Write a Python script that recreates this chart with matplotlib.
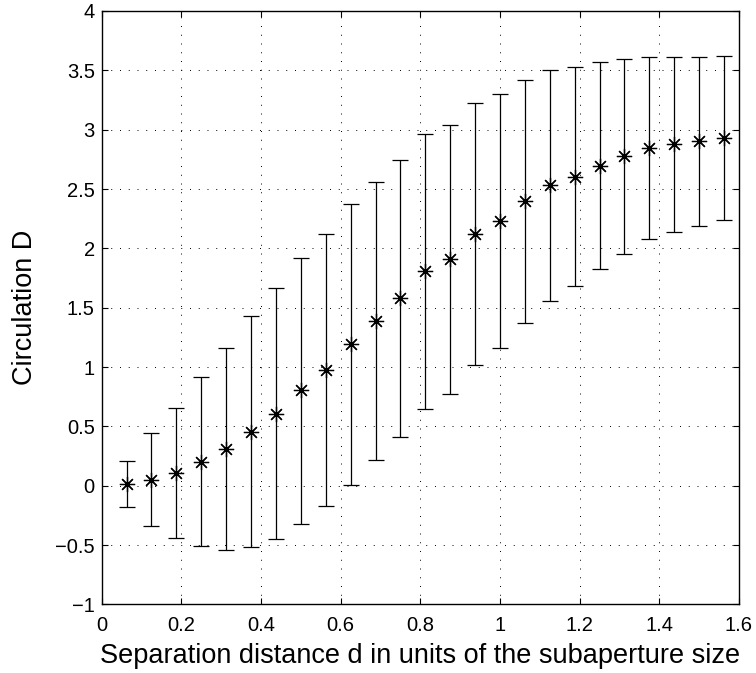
import matplotlib
matplotlib.use("Agg")
import matplotlib.pyplot as plt
import numpy as np

plt.rcParams['font.family'] = ['Liberation Sans', 'DejaVu Sans']

# Data
separation = [0.0625, 0.125, 0.1875, 0.25, 0.3125, 0.375, 0.4375, 0.5, 0.5625,
              0.625, 0.6875, 0.75, 0.8125, 0.875, 0.9375, 1.0, 1.0625, 1.125,
              1.1875, 1.25, 1.3125, 1.375, 1.4375, 1.5, 1.5625]
circulation = [0.013, 0.051, 0.110, 0.200, 0.310, 0.453, 0.607, 0.804, 0.978,
               1.195, 1.388, 1.580, 1.807, 1.911, 2.121, 2.233, 2.397, 2.532,
               2.604, 2.697, 2.776, 2.843, 2.877, 2.902, 2.933]
upper = [0.209, 0.445, 0.655, 0.917, 1.164, 1.428, 1.664, 1.922, 2.121,
         2.377, 2.559, 2.747, 2.961, 3.037, 3.222, 3.301, 3.419, 3.506,
         3.526, 3.570, 3.596, 3.612, 3.612, 3.612, 3.618]
lower = [-0.181, -0.339, -0.437, -0.510, -0.538, -0.518, -0.446, -0.322, -0.170,
         0.009, 0.217, 0.414, 0.650, 0.776, 1.015, 1.164, 1.374, 1.554,
         1.681, 1.826, 1.953, 2.077, 2.136, 2.191, 2.242]

x_ticks = [0, 0.2, 0.4, 0.6, 0.8, 1, 1.2, 1.4, 1.6]
x_ticklabels = ['0', '0.2', '0.4', '0.6', '0.8', '1', '1.2', '1.4', '1.6']
y_ticks = [-1, -0.5, 0, 0.5, 1, 1.5, 2, 2.5, 3, 3.5, 4]
y_ticklabels = ['\u22121', '\u22120.5', '0', '0.5', '1', '1.5', '2', '2.5', '3', '3.5', '4']

y = np.array(circulation)
yerr = [y - np.array(lower), np.array(upper) - y]

fig = plt.figure(figsize=(7.56, 6.73), dpi=100)
ax = fig.add_axes([0.1345, 0.1019, 0.9775 - 0.1345, 0.9837 - 0.1019])

ax.errorbar(separation, y, yerr=yerr, fmt='none', ecolor='black',
            elinewidth=0.9, capsize=6, capthick=0.9, zorder=3)
ax.plot(separation, y, linestyle='none', marker=(8, 2, 0), markersize=11,
        markeredgecolor='black', markeredgewidth=0.9, color='black', zorder=4)

ax.set_xlim(0, 1.6)
ax.set_ylim(-1, 4)
ax.set_xticks(x_ticks)
ax.set_xticklabels(x_ticklabels)
ax.set_yticks(y_ticks)
ax.set_yticklabels(y_ticklabels)

ax.grid(True, color='black', linestyle=(0, (1, 8)), linewidth=0.7)
ax.tick_params(direction='in', top=True, right=True, length=4.5, width=0.8,
               labelsize=14.5)
ax.tick_params(axis='x', pad=8)
ax.tick_params(axis='y', pad=5)
for s in ax.spines.values():
    s.set_linewidth(1.0)

ax.set_xlabel('Separation distance d in units of the subaperture size', fontsize=19.5, labelpad=6)
ax.set_ylabel('Circulation D', fontsize=19.5, labelpad=12)

fig.savefig('out.png', dpi=100)
